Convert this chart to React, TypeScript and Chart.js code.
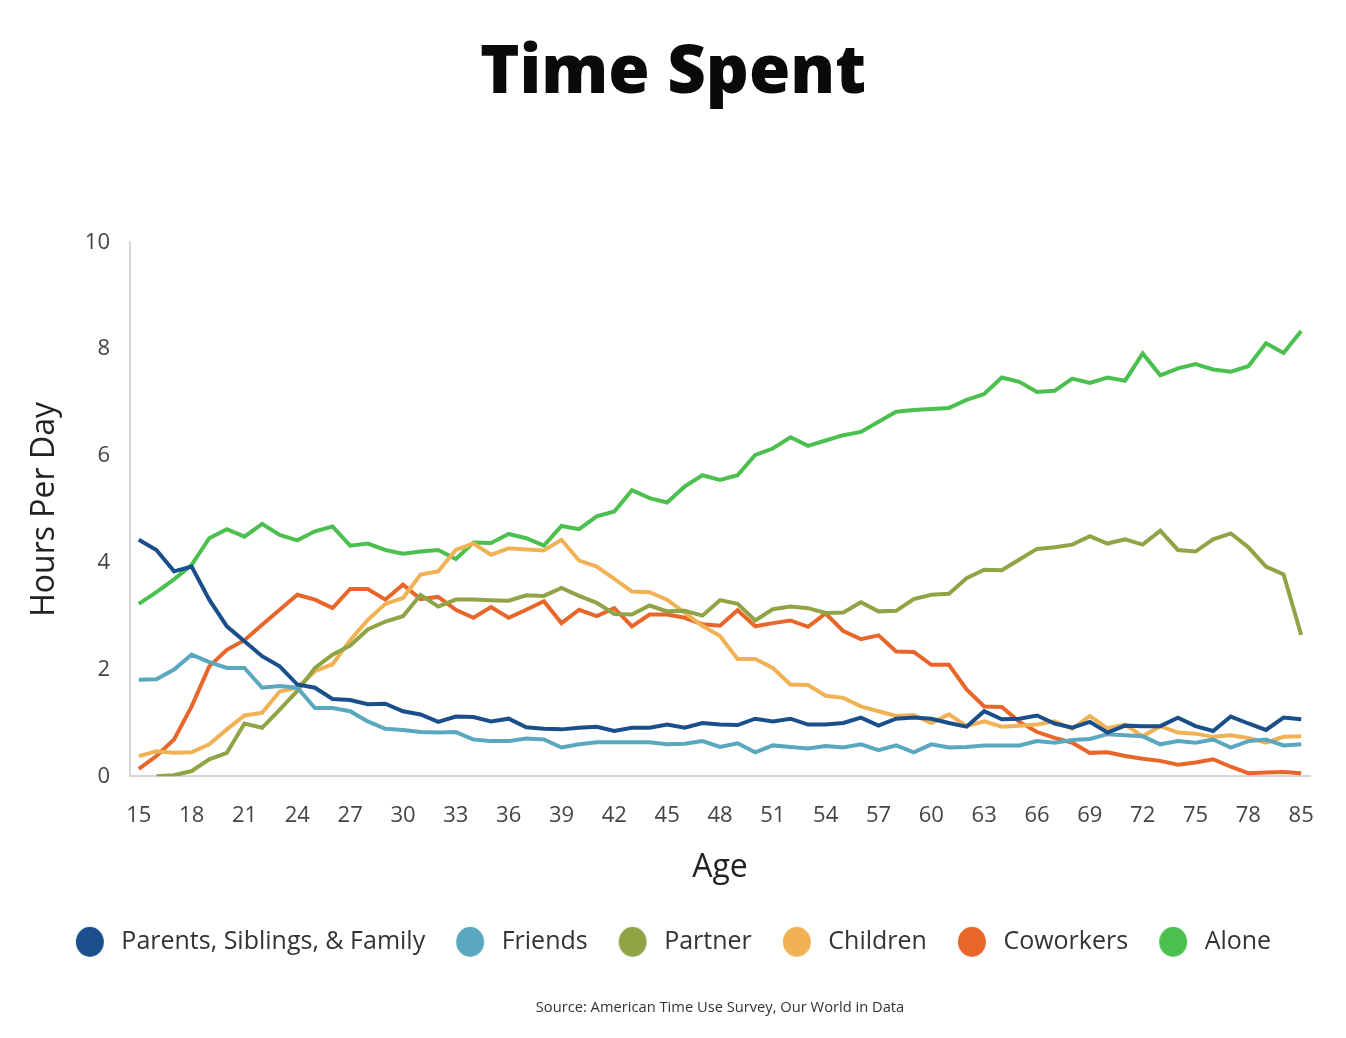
import { useEffect, useRef } from "react";
import { Chart, registerables } from "chart.js";
Chart.register(...registerables);

const ages = [
  15, 16, 17, 18, 19, 20, 21, 22, 23, 24, 25, 26, 27, 28, 29, 30, 31, 32, 33, 34,
  35, 36, 37, 38, 39, 40, 41, 42, 43, 44, 45, 46, 47, 48, 49, 50, 51, 52, 53, 54,
  55, 56, 57, 58, 59, 60, 61, 62, 63, 64, 65, 66, 67, 68, 69, 70, 71, 72, 73, 74,
  75, 76, 77, 78, 79, 80, 85,
];

const parentsFamily = [
  4.43, 4.24, 3.84, 3.93, 3.31, 2.81, 2.53, 2.25, 2.06, 1.72, 1.66, 1.45, 1.43, 1.35, 1.36, 1.22, 1.16, 1.02, 1.12, 1.11,
  1.03, 1.08, 0.92, 0.89, 0.88, 0.91, 0.93, 0.85, 0.91, 0.91, 0.97, 0.91, 1.0, 0.97, 0.96, 1.08, 1.03, 1.08, 0.97, 0.97,
  1.0, 1.1, 0.95, 1.08, 1.1, 1.08, 1.0, 0.93, 1.22, 1.07, 1.08, 1.14, 0.99, 0.91, 1.02, 0.82, 0.95, 0.94, 0.94, 1.1,
  0.94, 0.85, 1.12, 0.99, 0.87, 1.1, 1.07,
];

const friends = [
  1.81, 1.82, 2.0, 2.28, 2.14, 2.03, 2.03, 1.66, 1.69, 1.66, 1.28, 1.28, 1.22, 1.03, 0.89, 0.87, 0.83, 0.82, 0.83, 0.69,
  0.66, 0.66, 0.71, 0.69, 0.54, 0.6, 0.64, 0.64, 0.64, 0.64, 0.6, 0.61, 0.66, 0.55, 0.62, 0.45, 0.58, 0.55, 0.52, 0.57,
  0.54, 0.6, 0.49, 0.58, 0.45, 0.6, 0.54, 0.55, 0.58, 0.58, 0.58, 0.66, 0.63, 0.68, 0.7, 0.79, 0.77, 0.75, 0.6, 0.66,
  0.63, 0.69, 0.54, 0.66, 0.69, 0.58, 0.6,
];

const partner = [
  null, 0.0, 0.02, 0.1, 0.32, 0.44, 0.99, 0.91, 1.25, 1.6, 2.03, 2.28, 2.45, 2.75, 2.9, 3.0, 3.4, 3.18, 3.31, 3.31,
  3.3, 3.29, 3.39, 3.38, 3.53, 3.38, 3.25, 3.04, 3.03, 3.2, 3.09, 3.1, 3.01, 3.3, 3.23, 2.92, 3.13, 3.18, 3.15, 3.06,
  3.07, 3.26, 3.09, 3.1, 3.32, 3.4, 3.42, 3.71, 3.87, 3.86, 4.06, 4.26, 4.29, 4.34, 4.5, 4.36, 4.44, 4.34, 4.6, 4.24,
  4.21, 4.44, 4.55, 4.29, 3.93, 3.78, 2.65,
];

const children = [
  0.38, 0.47, 0.44, 0.45, 0.6, 0.88, 1.14, 1.19, 1.59, 1.66, 1.97, 2.1, 2.55, 2.93, 3.23, 3.34, 3.78, 3.84, 4.24, 4.36,
  4.15, 4.27, 4.25, 4.23, 4.43, 4.04, 3.93, 3.7, 3.46, 3.45, 3.31, 3.06, 2.82, 2.63, 2.2, 2.2, 2.03, 1.72, 1.71, 1.51,
  1.47, 1.31, 1.22, 1.13, 1.15, 1.0, 1.16, 0.94, 1.03, 0.93, 0.95, 0.97, 1.03, 0.89, 1.13, 0.9, 0.97, 0.75, 0.94, 0.82,
  0.8, 0.74, 0.77, 0.72, 0.63, 0.74, 0.75,
];

const coworkers = [
  0.14, 0.38, 0.69, 1.31, 2.06, 2.37, 2.55, 2.84, 3.12, 3.4, 3.31, 3.15, 3.51, 3.51, 3.31, 3.59, 3.32, 3.36, 3.12, 2.97,
  3.17, 2.97, 3.12, 3.28, 2.87, 3.12, 3.0, 3.15, 2.81, 3.03, 3.03, 2.97, 2.85, 2.82, 3.11, 2.81, 2.87, 2.92, 2.8, 3.05,
  2.72, 2.57, 2.64, 2.34, 2.33, 2.09, 2.09, 1.63, 1.31, 1.3, 1.02, 0.83, 0.72, 0.63, 0.44, 0.45, 0.38, 0.33, 0.29, 0.22,
  0.26, 0.32, 0.18, 0.06, 0.07, 0.08, 0.06,
];

const alone = [
  3.23, 3.45, 3.69, 3.96, 4.46, 4.63, 4.49, 4.73, 4.52, 4.42, 4.59, 4.68, 4.32, 4.36, 4.24, 4.17, 4.21, 4.24, 4.07, 4.38,
  4.37, 4.54, 4.46, 4.32, 4.69, 4.63, 4.87, 4.96, 5.36, 5.21, 5.13, 5.43, 5.64, 5.55, 5.64, 6.02, 6.14, 6.35, 6.19, 6.29,
  6.39, 6.45, 6.64, 6.83, 6.86, 6.88, 6.9, 7.05, 7.16, 7.47, 7.39, 7.2, 7.22, 7.45, 7.37, 7.47, 7.41, 7.92, 7.51, 7.64,
  7.72, 7.62, 7.58, 7.68, 8.11, 7.93, 8.34,
];

const seriesNames = ["Parents, Siblings, & Family", "Friends", "Partner", "Children", "Coworkers", "Alone"];
const seriesColors = ["#1b4f8c", "#5aa7c0", "#8fa545", "#f1b255", "#e8662a", "#4cc04f"];
const seriesData = [parentsFamily, friends, partner, children, coworkers, alone];
const yTicks = [0, 2, 4, 6, 8, 10];

const FONT = "'Open Sans', Lato, sans-serif";

// legend marker: filled circle, slightly left of the image centre
function makeMarker(color: string): HTMLCanvasElement {
  const c = document.createElement("canvas");
  c.width = 40;
  c.height = 34;
  const ctx = c.getContext("2d")!;
  ctx.fillStyle = color;
  ctx.beginPath();
  ctx.ellipse(18, 17, 14, 15, 0, 0, Math.PI * 2);
  ctx.fill();
  return c;
}

export default function App() {
  const ref = useRef<HTMLCanvasElement>(null);
  useEffect(() => {
    const chart = new Chart(ref.current!, {
      type: "line",
      data: {
        labels: ages.map(String),
        datasets: seriesNames.map((name, i) => ({
          label: name,
          data: seriesData[i],
          borderColor: seriesColors[i],
          backgroundColor: seriesColors[i],
          borderWidth: 4,
          pointRadius: 0,
          pointStyle: makeMarker(seriesColors[i]) as any,
          tension: 0,
          spanGaps: false,
          yAxisID: "y",
        })),
      },
      options: {
        animation: false,
        responsive: true,
        maintainAspectRatio: false,
        layout: { padding: { left: 0, right: 0, top: 0, bottom: 21 } },
        plugins: {
          tooltip: { enabled: false },
          title: {
            display: true,
            text: "Time Spent",
            color: "#0a0a0a",
            font: { family: FONT, size: 67, weight: "800" },
            padding: { top: 34, bottom: 128 },
          },
          legend: {
            position: "bottom",
            labels: {
              usePointStyle: true,
              pointStyleWidth: 34,
              boxWidth: 34,
              boxHeight: 18,
              padding: 30,
              color: "#333",
              font: { family: FONT, size: 25 },
            },
          },
          subtitle: {
            display: true,
            position: "bottom",
            fullSize: false,
            text: "Source: American Time Use Survey, Our World in Data",
            color: "#333",
            font: { family: FONT, size: 14.7 },
            padding: { top: 35, bottom: 0 },
          },
        },
        scales: {
          x: {
            offset: true,
            grid: { display: false },
            border: { display: true, color: "#d6d6d6", width: 2 },
            ticks: {
              autoSkip: false,
              maxRotation: 0,
              padding: 18,
              color: "#444",
              font: { family: FONT, size: 22 },
              callback: (_v: any, idx: number) => (idx % 3 === 0 ? String(ages[idx]) : ""),
            },
            title: {
              display: true,
              text: "Age",
              color: "#222",
              font: { family: FONT, size: 32 },
              padding: { top: 0, bottom: 12 },
            },
            afterFit: (s: any) => {
              s.height = 123;
            },
          },
          y: {
            min: 0,
            max: 10,
            grid: { display: false },
            border: { display: true, color: "#d6d6d6", width: 2 },
            afterBuildTicks: (axis: any) => {
              axis.ticks = yTicks.map((v) => ({ value: v }));
            },
            ticks: {
              padding: 12,
              color: "#444",
              font: { family: FONT, size: 22 },
            },
            title: {
              display: true,
              text: "Hours Per Day",
              color: "#222",
              font: { family: FONT, size: 32 },
              padding: { top: 26, bottom: 0 },
            },
            afterFit: (s: any) => {
              s.width = 130;
            },
          },
          yRightSpace: {
            position: "right",
            display: true,
            min: 0,
            max: 10,
            grid: { display: false },
            border: { display: false },
            ticks: { display: false },
            afterFit: (s: any) => {
              s.width = 36;
            },
          },
        },
      },
    });
    return () => chart.destroy();
  }, []);
  return (
    <div style={{ position: "absolute", left: 0, top: 0, width: 1346, height: 1038, background: "#fff" }}>
      <canvas ref={ref} />
    </div>
  );
}
